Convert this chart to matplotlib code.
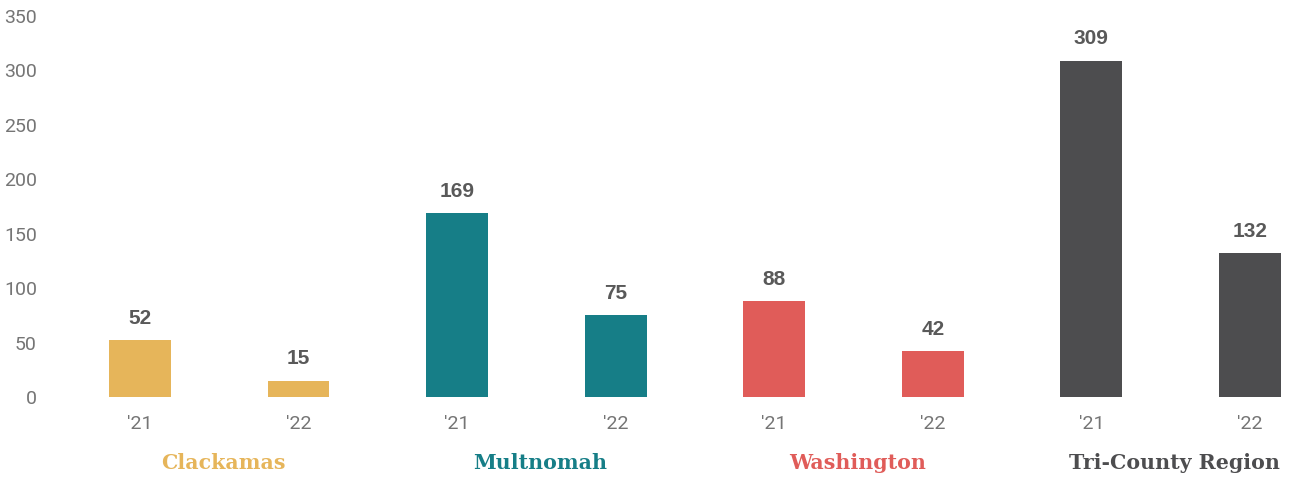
import matplotlib
matplotlib.use("Agg")
import matplotlib.pyplot as plt
from matplotlib import transforms

groups = ["Clackamas", "Multnomah", "Washington", "Tri-County Region"]
years = ["'21", "'22"]
values_21 = [52, 169, 88, 309]
values_22 = [15, 75, 42, 132]
colors = ["#E6B55A", "#167E87", "#E05C59", "#4D4D4F"]
yticks = [0, 50, 100, 150, 200, 250, 300, 350]

W, H = 1290, 479
fig = plt.figure(figsize=(W / 100, H / 100), dpi=100)
left, right, bottom, top = 55, 1288, 397, 16
ax = fig.add_axes([left / W, (H - bottom) / H, (right - left) / W, (bottom - top) / H])

positions, vals, cols, labels = [], [], [], []
for i, g in enumerate(groups):
    for j, v in enumerate([values_21[i], values_22[i]]):
        positions.append(2 * i + j)
        vals.append(v)
        cols.append(colors[i])
        labels.append(years[j])

ax.bar(positions, vals, width=0.39, color=cols)
for x, v in zip(positions, vals):
    ax.annotate(str(v), (x, v), xytext=(0, 9), textcoords="offset points",
                ha="center", va="bottom", fontsize=15, fontweight="bold",
                color="#595959", family="Liberation Sans")

ax.set_xlim(-0.536, 7.24)
ax.set_ylim(0, 350)
ax.set_yticks(yticks)
ax.set_yticklabels([str(t) for t in yticks], fontsize=14, color="#757575", family="Roboto")
ax.set_xticks(positions)
ax.set_xticklabels(labels, fontsize=14, color="#757575", family="Roboto")
ax.tick_params(axis="both", length=0)
ax.tick_params(axis="x", pad=13)
ax.tick_params(axis="y", pad=13)
for s in ax.spines.values():
    s.set_visible(False)

trans = transforms.blended_transform_factory(ax.transData, ax.transAxes)
for i, g in enumerate(groups):
    ax.text(2 * i + 0.525, -0.172, g, transform=trans, ha="center", va="center",
            fontsize=14.8, fontweight="bold", color=colors[i], family="DejaVu Serif")

fig.savefig("out.png", dpi=100)
